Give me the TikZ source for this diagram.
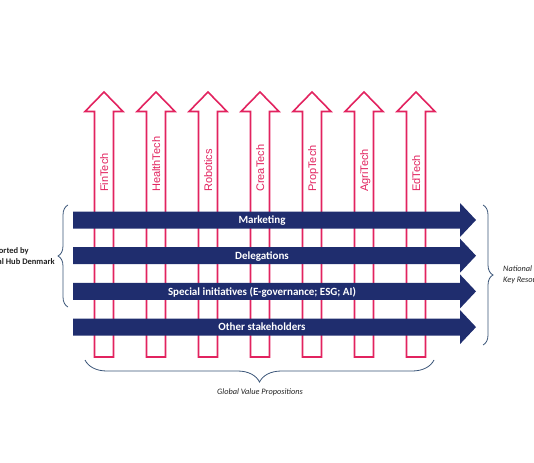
\documentclass[tikz,border=0pt]{standalone}
\usepackage{fontspec}
\setmainfont{Carlito}
\newfontfamily\arialfont{Liberation Sans}
\usetikzlibrary{decorations.pathreplacing}
\definecolor{techpink}{HTML}{E2235F}
\definecolor{flownavy}{HTML}{1F2D6E}
\definecolor{bracegray}{HTML}{3A5578}
\definecolor{inkdark}{HTML}{222222}
\tikzset{
  varrow/.style={draw=techpink, fill=white, line width=1.6pt, line join=miter},
  harrow/.style={fill=flownavy},
  techlbl/.style={font=\arialfont\fontsize{11}{13}\selectfont, text=techpink, rotate=90, anchor=base west, inner sep=0pt},
  flowlbl/.style={font=\bfseries\fontsize{11}{13}\selectfont, text=white, anchor=base, inner sep=0pt},
  brc/.style={draw=bracegray, line width=0.8pt, decorate},
  hublbl/.style={font=\bfseries\fontsize{8.5}{10.7}\selectfont, text=inkdark, align=left, inner sep=0pt},
  notelbl/.style={font=\itshape\fontsize{8.3}{10.7}\selectfont, text=inkdark, align=left, inner sep=0pt},
}
\begin{document}
\begin{tikzpicture}[x=1pt,y=-1pt]
  \useasboundingbox (0,0) rectangle (534,462);
  \clip (0,0) rectangle (534,462);

  % sector arrows (drawn first, the flows run over them)
  \foreach \lbl [count=\i from 0] in {FinTech,HealthTech,Robotics,CreaTech,PropTech,AgriTech,EdTech}{
    \pgfmathsetmacro{\cx}{104+52*\i}
    \draw[varrow] (\cx-9.5,357) -- (\cx-9.5,111.5) -- (\cx-19,111.5) -- (\cx,92)
        -- (\cx+19,111.5) -- (\cx+9.5,111.5) -- (\cx+9.5,357) -- cycle;
    \node[techlbl] (tech\i) at (\cx+4,192) {\lbl};
  }

  % flows
  \foreach \lbl [count=\j from 0] in {Marketing,Delegations,{Special initiatives (E-governance; ESG; AI)},Other stakeholders}{
    \pgfmathsetmacro{\cy}{220+35.7*\j}
    \fill[harrow] (73,\cy-8.5) -- (460,\cy-8.5) -- (460,\cy-17) -- (476,\cy)
        -- (460,\cy+17) -- (460,\cy+8.5) -- (73,\cy+8.5) -- cycle;
    \node[flowlbl] (flow\j) at (262,\cy+3.6) {\lbl};
  }

  % braces
  \draw[brc, decoration={brace, amplitude=10pt}] (68,307) -- (68,205);
  \draw[brc, decoration={brace, amplitude=10pt}] (483,205) -- (483,345);
  \draw[brc, decoration={brace, amplitude=22pt}] (434,360) -- (85,360);

  \node[hublbl, anchor=north west] (hub) at (-19,247.5) {Supported by\\Digital Hub Denmark};
  \node[notelbl, anchor=north west] (natl) at (503,265.5) {National\\Key Resources};
  \node[notelbl] (gvp) at (260,392) {Global Value Propositions};
\end{tikzpicture}
\end{document}
